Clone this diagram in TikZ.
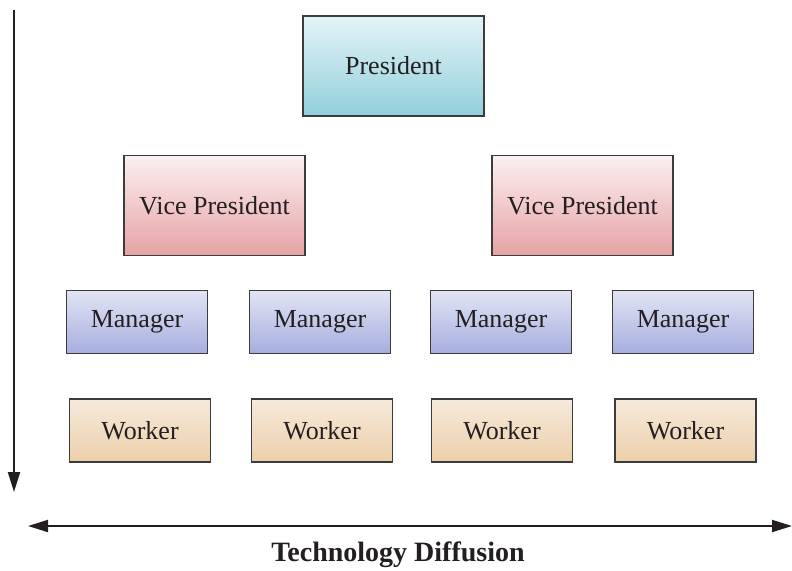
\documentclass[tikz,border=0pt]{standalone}
\usepackage{fontspec}
\setmainfont{Liberation Serif}
\usetikzlibrary{arrows.meta}

\definecolor{ink}{HTML}{231F20}
\definecolor{boxline}{HTML}{3C3C3C}
\definecolor{presTop}{HTML}{E4F4F7}
\definecolor{presBot}{HTML}{92CFDB}
\definecolor{vpTop}{HTML}{FBF0F0}
\definecolor{vpBot}{HTML}{E6A2A4}
\definecolor{mgrTop}{HTML}{E1E4F4}
\definecolor{mgrBot}{HTML}{A6AEDF}
\definecolor{wrkTop}{HTML}{F6EADC}
\definecolor{wrkBot}{HTML}{ECCFA9}

\tikzset{
  box/.style={draw=boxline, line width=0.6pt, inner sep=0pt, text=ink,
    font=\fontsize{13}{15}\selectfont},
  bigbox/.style={box, minimum width=90.5pt, minimum height=50pt},
  smallbox/.style={box, minimum width=70.5pt, minimum height=31.5pt},
  axis/.style={ink, line width=1pt},
}

\begin{document}
\begin{tikzpicture}[x=0.5pt,y=-0.5pt]
    \useasboundingbox (0,0) rectangle (792,570);
    \node[bigbox, top color=presTop, bottom color=presBot] (P) at (393.5, 66) {President};
    \node[bigbox, top color=vpTop, bottom color=vpBot] (V1) at (214.5, 205.5) {Vice President};
    \node[bigbox, top color=vpTop, bottom color=vpBot] (V2) at (582.5, 205.5) {Vice President};
    \foreach \x [count=\i] in {137, 320, 501, 683} {
      \node[smallbox, top color=mgrTop, bottom color=mgrBot] (M\i) at (\x, 322) {Manager};
    }
    \foreach \x [count=\i] in {140, 322, 502, 685.5} {
      \node[smallbox, top color=wrkTop, bottom color=wrkBot] (W\i) at (\x, 430.5) {Worker};
    }
    % diffusion axes
    \coordinate (vtop) at (14, 10);
    \coordinate (vbot) at (14, 492);
    \coordinate (hl) at (28, 526);
    \coordinate (hr) at (792, 526);
    \draw[axis, -{Triangle[length=10pt,width=6pt]}] (vtop) -- (vbot);
    \draw[axis, {Triangle[length=10pt,width=6pt]}-{Triangle[length=10pt,width=6pt]}] (hl) -- (hr);
    \node[text=ink, font=\fontsize{14}{16}\selectfont\bfseries] (TD) at (398, 555) {Technology Diffusion};
\end{tikzpicture}
\end{document}
